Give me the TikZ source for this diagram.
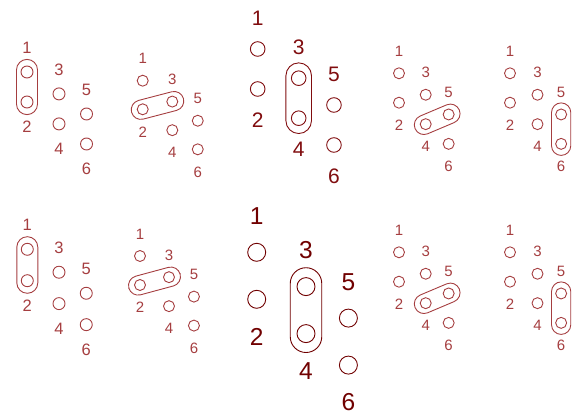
\documentclass[tikz,border=0pt]{standalone}
\usepackage{fontspec}
\setmainfont{Liberation Sans}
\usetikzlibrary{positioning,calc}
\definecolor{BrlRed}{RGB}{165,62,64}
\definecolor{BrlDark}{RGB}{128,12,14}
\definecolor{BrlDeep}{RGB}{112,0,0}
\tikzset{
	hole/.style={circle,draw,line width=0.9pt,inner sep=0pt,outer sep=0pt},
	pill/.style={rectangle,draw,line width=0.9pt,inner sep=0pt,outer sep=0pt},
	num/.style={inner sep=0pt,outer sep=0pt},
}

\begin{document}
\begin{tikzpicture}[x=1pt,y=-1pt]
	\useasboundingbox (0,0) rectangle (573,411);
	% origin / column step / row step / hole radius / font size / first dot of the pair / ink
	\foreach \ox/\oy/\dx/\dy/\rad/\fs/\k/\ink [count=\pat] in {
		27/72/32/30/6/16.5/1/BrlRed,
		142.7/80.7/29.6/28.6/5.5/15/2/BrlRed,
		257.7/49/41/40/7.3/21/3/BrlDark,
		399/73.3/26.7/29.4/5.5/15/4/BrlRed,
		510/73.3/27.5/29.4/5.5/15/5/BrlRed,
		27.3/249.3/31.7/31.4/6/16.5/1/BrlRed,
		140/256/29/29/5.5/15/2/BrlRed,
		256.7/252.3/49.3/47/9/24.5/3/BrlDeep,
		399/252.3/26.7/29.4/5.5/15/4/BrlRed,
		510/252.3/27.5/29.4/5.5/15/5/BrlRed}
	{
		\begin{scope}[shift={(\ox,\oy)},\ink]
			\foreach \i/\cx/\cy in {1/0/0,2/0/1,3/1/0.73,4/1/1.73,5/1.86/1.4,6/1.86/2.4}
				\node[hole,minimum size=2*\rad] (c\pat-\i) at (\cx*\dx,\cy*\dy) {};
			\pgfmathsetmacro\gapup{0.75*\fs}
			\pgfmathsetmacro\gapdown{0.8*\fs}
			\foreach \i in {1,3,5}
				\node[num,font=\fontsize{\fs}{\fs}\selectfont,above=\gapup pt of c\pat-\i] (n\pat-\i) {\i};
			\foreach \i in {2,4,6}
				\node[num,font=\fontsize{\fs}{\fs}\selectfont,below=\gapdown pt of c\pat-\i] (n\pat-\i) {\i};
			% the pair that is ringed
			\pgfmathtruncatemacro\kk{\k+1}
			\pgfmathsetmacro\hw{1.75*\rad}
			\path let \p1=($(c\pat-\kk)-(c\pat-\k)$), \n1={atan2(\y1,\x1)}, \n2={veclen(\x1,\y1)} in
				node[pill,minimum width={\n2+2.4*\hw},minimum height={2*\hw},rounded corners=\hw,rotate=\n1]
				(s\pat) at ($(c\pat-\k)!0.5!(c\pat-\kk)$) {};
		\end{scope}
	}
\end{tikzpicture}
\end{document}
